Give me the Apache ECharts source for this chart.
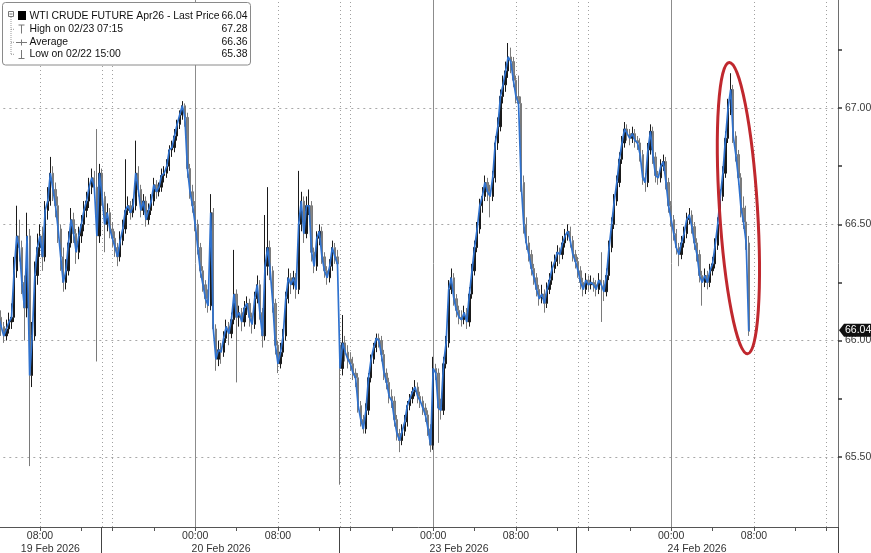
<!DOCTYPE html>
<html><head><meta charset="utf-8">
<script src="https://cdn.jsdelivr.net/npm/echarts@6/dist/echarts.min.js"></script>
<style>html,body{margin:0;padding:0;background:#fff}#c{width:871px;height:553px}</style>
</head><body><div id="c"></div>
<script>
// ---- Data (15-minute bars, WTI Crude Future Apr26) ----
const sessionStarts = ['2026-02-19T04:00','2026-02-19T15:00','2026-02-22T15:00','2026-02-23T15:00','2026-02-24T15:00'];
const sessionBars = [40, 92, 92, 92, 9];
const dayLabels = ['19 Feb 2026','20 Feb 2026','23 Feb 2026','24 Feb 2026'];
const timeLabelSet = ['00:00','08:00'];

const opens = [
66.12,66.10,66.06,66.02,66.05,66.08,66.10,66.30,66.45,66.40,
66.25,66.14,66.45,65.85,66.02,66.28,66.40,66.45,66.36,66.56,
66.60,66.72,66.65,66.58,66.48,66.36,66.25,66.30,66.42,66.52,
66.46,66.38,66.45,66.50,66.56,66.60,66.66,66.70,66.66,66.45,
66.72,66.62,66.50,66.55,66.48,66.44,66.40,66.36,66.43,66.48,
66.56,66.58,66.55,66.58,66.72,66.65,66.56,66.60,66.52,66.56,
66.60,66.67,66.64,66.66,66.71,66.72,66.75,66.82,66.83,66.88,
66.93,66.97,67.01,66.96,66.74,66.64,66.58,66.50,66.40,66.30,
66.24,66.18,66.15,66.55,66.05,65.92,65.96,65.95,66.01,66.06,
66.03,66.09,66.20,66.10,66.12,66.08,66.14,66.16,66.10,66.07,
66.18,66.24,66.12,66.02,66.32,66.40,66.30,66.16,65.98,65.90,
65.95,66.02,66.18,66.27,66.24,66.27,66.22,66.50,66.60,66.46,
66.58,66.58,66.38,66.32,66.44,66.47,66.36,66.30,66.27,66.32,
66.40,66.36,65.98,65.88,65.99,65.95,65.92,65.90,65.86,65.84,
65.72,65.66,65.62,65.70,65.84,65.92,65.97,66.01,66.00,65.94,
65.86,65.82,65.76,65.74,65.66,65.60,65.57,65.61,65.65,65.72,
65.75,65.78,65.80,65.76,65.74,65.71,65.68,65.62,65.55,65.88,
65.86,65.71,65.70,65.90,65.99,66.22,66.27,66.18,66.13,66.10,
66.09,66.12,66.08,66.20,66.30,66.40,66.48,66.58,66.62,66.68,
66.64,66.62,66.70,66.85,66.92,67.05,67.10,67.16,67.22,67.20,
67.12,67.05,67.02,66.68,66.50,66.42,66.37,66.31,66.27,66.22,
66.18,66.20,66.16,66.22,66.26,66.31,66.34,66.38,66.37,66.42,
66.45,66.47,66.43,66.37,66.34,66.30,66.25,66.22,66.26,66.24,
66.25,66.24,66.22,66.26,66.24,66.21,66.28,66.40,66.50,66.60,
66.68,66.78,66.85,66.91,66.89,66.87,66.89,66.86,66.85,66.80,
66.70,66.68,66.82,66.90,66.79,66.71,66.70,66.75,66.77,66.68,
66.58,66.52,66.46,66.40,66.37,66.42,66.46,66.52,66.54,66.49,
66.42,66.37,66.28,66.25,66.28,66.25,66.30,66.33,66.41,66.50,
66.62,66.72,66.87,67.00,67.08,66.88,66.80,66.70,66.57,66.51,
66.42];

const highs = [
66.16,66.13,66.08,66.09,66.12,66.16,66.36,66.58,66.52,66.43,
66.28,66.55,66.48,66.08,66.34,66.46,66.50,66.49,66.60,66.66,
66.79,66.75,66.68,66.62,66.50,66.40,66.35,66.47,66.57,66.55,
66.48,66.49,66.54,66.60,66.64,66.70,66.74,66.73,66.91,66.76,
66.74,66.64,66.59,66.57,66.51,66.47,66.42,66.47,66.52,66.78,
66.62,66.60,66.61,66.86,66.75,66.67,66.63,66.62,66.59,66.63,
66.70,66.69,66.68,66.74,66.75,66.78,66.84,66.86,66.91,66.95,
66.99,67.03,67.02,66.98,66.76,66.67,66.60,66.52,66.42,66.32,
66.26,66.22,66.63,66.57,66.07,66.00,65.99,66.04,66.09,66.08,
66.12,66.39,66.22,66.15,66.14,66.17,66.19,66.18,66.12,66.21,
66.28,66.26,66.14,66.54,66.66,66.43,66.32,66.18,66.00,65.99,
66.05,66.21,66.31,66.29,66.30,66.29,66.73,66.64,66.62,66.62,
66.65,66.60,66.40,66.47,66.50,66.49,66.38,66.32,66.35,66.43,
66.42,66.39,66.02,66.11,66.02,65.98,65.95,65.93,65.88,65.86,
65.74,65.68,65.73,65.86,65.94,65.99,66.03,66.03,66.02,65.96,
65.88,65.84,65.79,65.76,65.68,65.62,65.64,65.68,65.74,65.77,
65.80,65.83,65.82,65.78,65.76,65.73,65.70,65.64,65.93,65.90,
65.88,65.75,65.93,66.02,66.26,66.31,66.29,66.20,66.15,66.13,
66.15,66.14,66.23,66.33,66.43,66.51,66.61,66.66,66.71,66.70,
66.67,66.73,66.88,66.96,67.08,67.14,67.20,67.28,67.26,67.22,
67.14,67.14,67.05,66.71,66.53,66.45,66.39,66.33,66.29,66.24,
66.24,66.22,66.25,66.29,66.34,66.37,66.41,66.40,66.45,66.48,
66.50,66.49,66.45,66.39,66.36,66.32,66.27,66.29,66.28,66.28,
66.27,66.26,66.29,66.38,66.26,66.31,66.43,66.53,66.63,66.71,
66.81,66.88,66.94,66.93,66.91,66.92,66.91,66.88,66.87,66.82,
66.72,66.85,66.93,66.92,66.81,66.73,66.78,66.80,66.79,66.70,
66.60,66.54,66.48,66.42,66.45,66.49,66.55,66.57,66.56,66.51,
66.44,66.39,66.30,66.31,66.30,66.33,66.36,66.44,66.53,66.65,
66.75,66.90,67.04,67.15,67.10,66.90,66.82,66.72,66.62,66.58,
66.45];

const lows = [
66.06,66.02,65.99,66.00,66.03,66.05,66.08,66.27,66.34,66.20,
66.00,66.10,65.46,65.80,66.00,66.24,66.36,66.30,66.34,66.52,
66.58,66.60,66.53,66.42,66.30,66.21,66.22,66.28,66.40,66.42,
66.33,66.35,66.42,66.47,66.53,66.57,66.63,66.62,65.91,66.42,
66.58,66.38,66.47,66.44,66.40,66.36,66.32,66.34,66.41,66.46,
66.54,66.52,66.53,66.56,66.62,66.53,66.54,66.49,66.50,66.54,
66.58,66.61,66.62,66.64,66.68,66.70,66.73,66.79,66.81,66.86,
66.91,66.95,66.92,66.70,66.61,66.55,66.47,66.37,66.27,66.21,
66.14,66.12,66.13,66.02,65.87,65.89,65.90,65.93,65.99,65.98,
66.01,66.07,65.82,66.06,66.04,66.06,66.11,66.06,66.03,66.05,
66.16,66.09,65.97,66.00,66.28,66.26,66.12,65.94,65.86,65.88,
65.93,66.00,66.16,66.20,66.22,66.18,66.20,66.47,66.42,66.44,
66.54,66.34,66.29,66.30,66.41,66.33,66.27,66.24,66.25,66.30,
66.33,66.30,65.38,65.85,65.91,65.88,65.87,65.83,65.80,65.69,
65.63,65.60,65.60,65.68,65.82,65.90,65.95,65.97,65.91,65.83,
65.79,65.73,65.71,65.63,65.57,65.52,65.55,65.59,65.63,65.70,
65.73,65.76,65.73,65.71,65.68,65.65,65.59,65.52,65.53,65.83,
65.56,65.66,65.68,65.88,65.97,66.20,66.15,66.10,66.07,66.06,
66.07,66.05,66.06,66.18,66.28,66.38,66.46,66.55,66.60,66.60,
66.53,66.60,66.68,66.82,66.90,67.02,67.07,67.13,67.15,67.09,
67.02,66.99,66.64,66.46,66.39,66.34,66.28,66.24,66.19,66.15,
66.16,66.12,66.14,66.20,66.24,66.29,66.32,66.33,66.35,66.40,
66.43,66.40,66.34,66.31,66.27,66.22,66.19,66.20,66.21,66.22,
66.21,66.19,66.20,66.08,66.17,66.19,66.26,66.38,66.48,66.58,
66.66,66.76,66.83,66.86,66.84,66.85,66.83,66.82,66.77,66.67,
66.64,66.66,66.80,66.76,66.68,66.67,66.68,66.73,66.65,66.55,
66.49,66.43,66.37,66.32,66.35,66.40,66.44,66.50,66.46,66.39,
66.34,66.25,66.15,66.23,66.22,66.23,66.28,66.31,66.39,66.48,
66.60,66.70,66.85,66.97,66.85,66.77,66.67,66.53,66.48,66.39,
66.02];

const closes = [
66.10,66.06,66.02,66.05,66.08,66.10,66.30,66.45,66.40,66.25,
66.14,66.45,65.85,66.02,66.28,66.40,66.45,66.36,66.56,66.60,
66.72,66.65,66.58,66.48,66.36,66.25,66.30,66.42,66.52,66.46,
66.38,66.45,66.50,66.56,66.60,66.66,66.70,66.66,66.45,66.72,
66.62,66.50,66.55,66.48,66.44,66.40,66.36,66.43,66.48,66.56,
66.58,66.55,66.58,66.72,66.65,66.56,66.60,66.52,66.56,66.60,
66.67,66.64,66.66,66.71,66.72,66.75,66.82,66.83,66.88,66.93,
66.97,67.01,66.96,66.74,66.64,66.58,66.50,66.40,66.30,66.24,
66.18,66.15,66.55,66.05,65.92,65.96,65.95,66.01,66.06,66.03,
66.09,66.20,66.10,66.12,66.08,66.14,66.16,66.10,66.07,66.18,
66.24,66.12,66.02,66.32,66.40,66.30,66.16,65.98,65.90,65.95,
66.02,66.18,66.27,66.24,66.27,66.22,66.50,66.60,66.46,66.58,
66.58,66.38,66.32,66.44,66.47,66.36,66.30,66.27,66.32,66.40,
66.36,66.33,65.88,65.99,65.95,65.92,65.90,65.86,65.84,65.72,
65.66,65.62,65.70,65.84,65.92,65.97,66.01,66.00,65.94,65.86,
65.82,65.76,65.74,65.66,65.60,65.57,65.61,65.65,65.72,65.75,
65.78,65.80,65.76,65.74,65.71,65.68,65.62,65.55,65.88,65.86,
65.71,65.70,65.90,65.99,66.22,66.27,66.18,66.13,66.10,66.09,
66.12,66.08,66.20,66.30,66.40,66.48,66.58,66.62,66.68,66.64,
66.62,66.70,66.85,66.92,67.05,67.10,67.16,67.22,67.20,67.12,
67.05,67.02,66.68,66.50,66.42,66.37,66.31,66.27,66.22,66.18,
66.20,66.16,66.22,66.26,66.31,66.34,66.38,66.37,66.42,66.45,
66.47,66.43,66.37,66.34,66.30,66.25,66.22,66.26,66.24,66.25,
66.24,66.22,66.26,66.24,66.21,66.28,66.40,66.50,66.60,66.68,
66.78,66.85,66.91,66.89,66.87,66.89,66.86,66.85,66.80,66.70,
66.68,66.82,66.90,66.79,66.71,66.70,66.75,66.77,66.68,66.58,
66.52,66.46,66.40,66.37,66.42,66.46,66.52,66.54,66.49,66.42,
66.37,66.28,66.25,66.28,66.25,66.30,66.33,66.41,66.50,66.62,
66.72,66.87,67.00,67.08,66.88,66.80,66.70,66.57,66.51,66.42,
66.04];

const yLabelValues = [65.5, 66.0, 66.5, 67.0];
const yTickValues = [65.5, 65.75, 66.0, 66.25, 66.5, 66.75, 67.0, 67.25];
const legendRows = [
  ['WTI CRUDE FUTURE Apr26 - Last Price', '66.04'],
  ['High on 02/23 07:15', '67.28'],
  ['Average', '66.36'],
  ['Low on 02/22 15:00', '65.38']
];
const lastPrice = 66.04;
const highlight = {idx: 286, value: 66.57, top: 67.195, bottom: 65.94};

// ---- Build categories from sessions ----
const pad = n => String(n).padStart(2, '0');
const categories = [];
const sessionFirst = [];
sessionStarts.forEach((s, k) => {
  sessionFirst.push(categories.length);
  const t0 = Date.parse(s + ':00Z');
  for (let j = 0; j < sessionBars[k]; j++) {
    const d = new Date(t0 + j * 900000);
    categories.push(pad(d.getUTCMonth() + 1) + '/' + pad(d.getUTCDate()) + ' ' + pad(d.getUTCHours()) + ':' + pad(d.getUTCMinutes()));
  }
});
const hm = i => categories[i].slice(6);
const dayCenter = {};
dayLabels.forEach((lab, k) => { dayCenter[sessionFirst[k] + Math.floor(sessionBars[k] / 2)] = lab; });
const separators = sessionFirst.slice(1, 4);

const candleData = closes.map((c, i) => [opens[i], c, lows[i], highs[i]]);

const vSolid = [], vDotted = [];
categories.forEach((c, i) => {
  const t = hm(i);
  if (t === '00:00') vSolid.push(i);
  else if (t === '08:00' || t === '16:00') vDotted.push(i);
});
separators.forEach(i => vDotted.push(i));

const FONT = '"Liberation Sans", Arial, sans-serif';
const chart = echarts.init(document.getElementById('c'), null, {renderer: 'canvas'});

const gridLines = [];
yLabelValues.forEach(v => gridLines.push({yAxis: v, lineStyle: {type: [2, 4], color: '#a8a8a8', width: 1}}));
vDotted.forEach(i => gridLines.push({xAxis: categories[i], lineStyle: {type: [1, 3], color: '#a0a0a0', width: 1}}));
vSolid.forEach(i => gridLines.push({xAxis: categories[i], lineStyle: {type: 'solid', color: '#8c8c8c', width: 1}}));

chart.setOption({
  animation: false,
  backgroundColor: '#ffffff',
  grid: {left: -2.68, right: 33, top: 0, bottom: 26, containLabel: false, outerBoundsMode: 'none'},
  xAxis: [{
    type: 'category', data: categories, boundaryGap: true, position: 'bottom',
    axisLine: {show: true, lineStyle: {color: '#555', width: 1}},
    axisTick: {show: true, alignWithLabel: true, length: 4, lineStyle: {color: '#555'},
      interval: (i) => { const t = hm(i); return t.slice(3) === '00' && (+t.slice(0, 2)) % 4 === 0; }},
    axisLabel: {interval: (i) => timeLabelSet.includes(hm(i)), formatter: (v) => v.slice(6),
      margin: 4, color: '#333', fontSize: 10.5, fontFamily: FONT},
    splitLine: {show: false}
  }, {
    type: 'category', data: categories, boundaryGap: true, position: 'bottom', offset: 0,
    axisLine: {show: false},
    axisTick: {show: true, alignWithLabel: false, length: 26, lineStyle: {color: '#444', width: 1},
      interval: (i) => separators.includes(i)},
    axisLabel: {interval: (i) => dayCenter[i] !== undefined, formatter: (v, i) => dayCenter[i] || '',
      margin: 17, color: '#333', fontSize: 10.5, fontFamily: FONT},
    splitLine: {show: false}
  }],
  yAxis: {
    type: 'value', position: 'right', min: 65.198, max: 67.465,
    axisLine: {show: true, lineStyle: {color: '#6e6e6e', width: 1}},
    axisTick: {show: true, customValues: yTickValues, length: 4, lineStyle: {color: '#333', width: 1.5}},
    axisLabel: {customValues: yLabelValues, formatter: (v) => v.toFixed(2), margin: 7,
      color: '#3a3a3a', fontSize: 10.5, fontFamily: FONT},
    splitLine: {show: false}
  },
  series: [{
    type: 'line', name: 'grid', data: [], silent: true, z: 1,
    markLine: {silent: true, z: 1, symbol: ['none', 'none'], animation: false, label: {show: false},
      emphasis: {disabled: true}, data: gridLines}
  }, {
    type: 'candlestick', name: 'WTI', data: candleData, z: 10, barWidth: 1.8,
    itemStyle: {color: '#1a1a1a', color0: '#858585', borderColor: '#1a1a1a', borderColor0: '#7a7a7a', borderWidth: 1}
  }, {
    type: 'line', name: 'Last', data: closes, z: 11, symbol: 'none', smooth: false,
    lineStyle: {color: '#2f72cf', width: 1.7}
  }]
});

// ---- Annotations & legend box ----
const yTag = chart.convertToPixel({yAxisIndex: 0}, lastPrice);
const axisX = 871 - 33;
const ex = chart.convertToPixel({xAxisIndex: 0}, categories[highlight.idx]);
const ey = chart.convertToPixel({yAxisIndex: 0}, highlight.value);
const eTop = chart.convertToPixel({yAxisIndex: 0}, highlight.top);
const eBot = chart.convertToPixel({yAxisIndex: 0}, highlight.bottom);
const ry = (eBot - eTop) / 2;

const rowY = [15.7, 29.3, 42.3, 54.3];
const legendEls = [
  {type: 'rect', z: 100, shape: {x: 2.5, y: 2.5, width: 248, height: 62.5, r: 3}, style: {fill: '#fff', stroke: '#8a8a8a', lineWidth: 1}},
  {type: 'rect', z: 101, shape: {x: 8.5, y: 11.5, width: 5, height: 5}, style: {fill: '#fff', stroke: '#777', lineWidth: 1}},
  {type: 'line', z: 101, shape: {x1: 9.5, y1: 14, x2: 12.5, y2: 14}, style: {stroke: '#777', lineWidth: 1}},
  {type: 'line', z: 101, shape: {x1: 11, y1: 17, x2: 11, y2: 54.5}, style: {stroke: '#999', lineWidth: 1, lineDash: [1, 1]}},
  {type: 'rect', z: 101, shape: {x: 18, y: 11, width: 8, height: 9}, style: {fill: '#000'}},
  {type: 'line', z: 101, shape: {x1: 18.5, y1: 25, x2: 24.5, y2: 25}, style: {stroke: '#777', lineWidth: 1}},
  {type: 'line', z: 101, shape: {x1: 21.5, y1: 25, x2: 21.5, y2: 33.5}, style: {stroke: '#777', lineWidth: 1}},
  {type: 'line', z: 101, shape: {x1: 16, y1: 42.5, x2: 27, y2: 42.5}, style: {stroke: '#777', lineWidth: 1}},
  {type: 'line', z: 101, shape: {x1: 21.5, y1: 39.5, x2: 21.5, y2: 45.5}, style: {stroke: '#777', lineWidth: 1}},
  {type: 'line', z: 101, shape: {x1: 21.5, y1: 50, x2: 21.5, y2: 58.5}, style: {stroke: '#777', lineWidth: 1}},
  {type: 'line', z: 101, shape: {x1: 18.5, y1: 58.5, x2: 24.5, y2: 58.5}, style: {stroke: '#777', lineWidth: 1}}
];
[29.3, 42.3, 54.3].forEach(y => legendEls.push({type: 'line', z: 101, shape: {x1: 11, y1: y, x2: 15, y2: y}, style: {stroke: '#999', lineWidth: 1, lineDash: [1, 1]}}));
legendRows.forEach((r, k) => {
  legendEls.push({type: 'text', z: 102, style: {text: r[0], x: 29.5, y: rowY[k], font: '10.4px ' + FONT, fill: '#111', textAlign: 'left', textVerticalAlign: 'middle', align: 'left', verticalAlign: 'middle'}});
  legendEls.push({type: 'text', z: 102, style: {text: r[1], x: 247.5, y: rowY[k], font: '10.4px ' + FONT, fill: '#111', textAlign: 'right', textVerticalAlign: 'middle', align: 'right', verticalAlign: 'middle'}});
});

chart.setOption({
  graphic: {elements: legendEls.concat([
    {type: 'ellipse', z: 90, x: ex, y: ey, rotation: 0.063, shape: {cx: 0, cy: 0, rx: 19, ry: ry},
      style: {fill: 'none', stroke: '#c0282e', lineWidth: 3}},
    {type: 'polygon', z: 95, shape: {points: [[axisX + 1, yTag - 1], [axisX + 6, yTag - 7.5], [871, yTag - 7.5], [871, yTag + 5.5], [axisX + 6, yTag + 5.5]]},
      style: {fill: '#111'}},
    {type: 'text', z: 96, style: {text: lastPrice.toFixed(2), x: axisX + 7, y: yTag - 1, font: '10.5px ' + FONT, fill: '#fff',
      textAlign: 'left', textVerticalAlign: 'middle', align: 'left', verticalAlign: 'middle'}}
  ])}
});
</script>
</body></html>
